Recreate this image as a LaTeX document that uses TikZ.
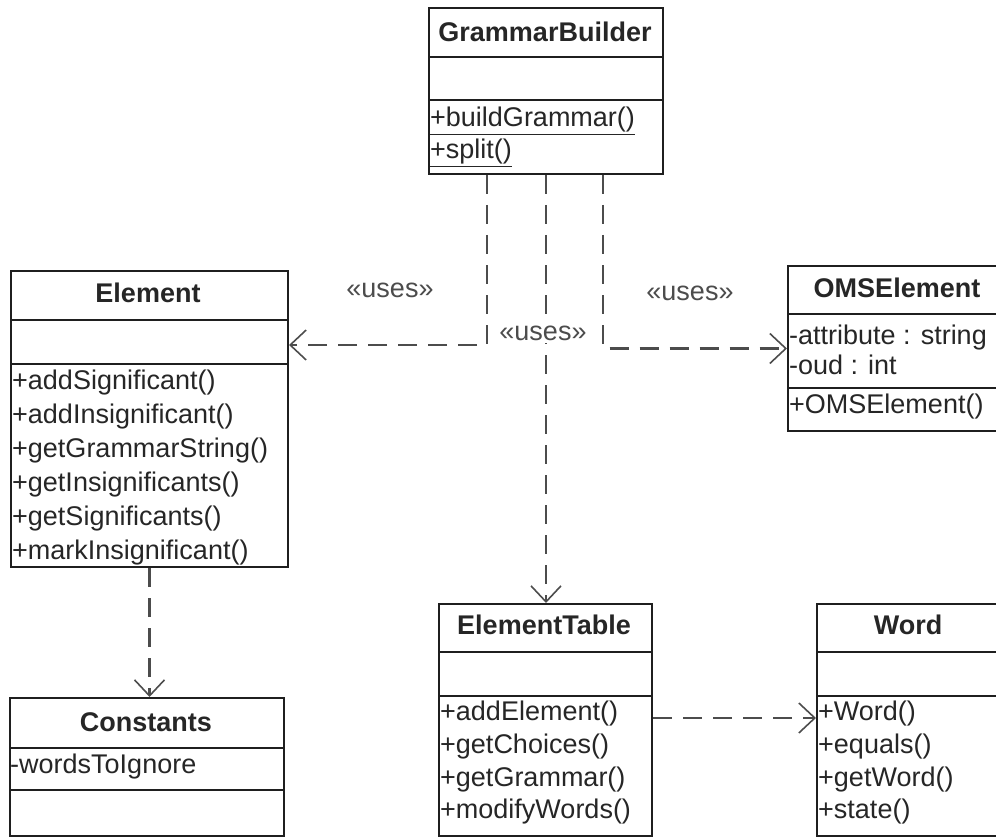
\documentclass[tikz,border=0pt]{standalone}
\usepackage{fontspec}
\setmainfont{Liberation Sans}
\usetikzlibrary{arrows.meta}
\tikzset{
  box/.style={draw=black!88, line width=2pt, anchor=north west, inner sep=0pt, fill=white},
  sep/.style={draw=black!88, line width=2pt},
  ttl/.style={font=\fontsize{27}{34}\selectfont\bfseries, inner sep=0pt, text=black!85},
  mem/.style={font=\fontsize{27}{34}\selectfont, inner sep=0pt, anchor=west, text=black!85,
              text height=20pt, text depth=6pt},
  dep/.style={draw=black!70, line width=2.8pt, dash pattern=on 19pt off 11pt,
              -{Straight Barb[length=16pt,width=30pt,line width=1.6pt]}},
  lbl/.style={font=\fontsize{27}{34}\selectfont, text=black!70, inner sep=3pt, fill=white}
}
\begin{document}
\begin{tikzpicture}[x=1pt,y=1pt]
\useasboundingbox (0,0) rectangle (996,-837);
\clip (0,0) rectangle (996,-837);

% ---- GrammarBuilder ----
\node[box, minimum width=234pt, minimum height=166pt] (gb) at (428,-7) {};
\draw[sep] (428,-57) -- (662,-57);
\draw[sep] (428,-100) -- (662,-100);
\node[ttl] (gbT) at (545,-32) {GrammarBuilder};
\node[mem] (gbM1) at (430,-120) {\underline{+buildGrammar()}};
\node[mem] (gbM2) at (430,-152) {\underline{+split()}};

% ---- Element ----
\node[box, minimum width=277pt, minimum height=296pt] (el) at (10,-270) {};
\draw[sep] (10,-320) -- (287,-320);
\draw[sep] (10,-364) -- (287,-364);
\node[ttl] (elT) at (148,-293) {Element};
\node[mem] (elM1) at (12,-382) {+addSignificant()};
\node[mem] (elM2) at (12,-416) {+addInsignificant()};
\node[mem] (elM3) at (12,-450) {+getGrammarString()};
\node[mem] (elM4) at (12,-484) {+getInsignificants()};
\node[mem] (elM5) at (12,-518) {+getSignificants()};
\node[mem] (elM6) at (12,-552) {+markInsignificant()};

% ---- OMSElement ----
\node[box, minimum width=225pt, minimum height=165pt] (oms) at (787,-265) {};
\draw[sep] (787,-314) -- (1012,-314);
\draw[sep] (787,-388) -- (1012,-388);
\node[ttl] (omsT) at (897,-288) {OMSElement};
\node[mem] (omsA1) at (789,-337) {-attribute : string};
\node[mem] (omsA2) at (789,-367) {-oud : int};
\node[mem] (omsM1) at (789,-406) {+OMSElement()};

% ---- Constants ----
\node[box, minimum width=274pt, minimum height=138pt] (co) at (9,-697) {};
\draw[sep] (9,-748) -- (283,-748);
\draw[sep] (9,-790) -- (283,-790);
\node[ttl] (coT) at (146,-722) {Constants};
\node[mem] (coA1) at (10,-766) {-wordsToIgnore};

% ---- ElementTable ----
\node[box, minimum width=213pt, minimum height=232pt] (et) at (438,-603) {};
\draw[sep] (438,-652) -- (651,-652);
\draw[sep] (438,-696) -- (651,-696);
\node[ttl] (etT) at (544,-625) {ElementTable};
\node[mem] (etM1) at (440,-713) {+addElement()};
\node[mem] (etM2) at (440,-746) {+getChoices()};
\node[mem] (etM3) at (440,-779) {+getGrammar()};
\node[mem] (etM4) at (440,-811) {+modifyWords()};

% ---- Word ----
\node[box, minimum width=214pt, minimum height=232pt] (wd) at (816,-603) {};
\draw[sep] (816,-652) -- (1030,-652);
\draw[sep] (816,-696) -- (1030,-696);
\node[ttl] (wdT) at (908,-625) {Word};
\node[mem] (wdM1) at (818,-713) {+Word()};
\node[mem] (wdM2) at (818,-746) {+equals()};
\node[mem] (wdM3) at (818,-779) {+getWord()};
\node[mem] (wdM4) at (818,-811) {+state()};

% ---- dependencies ----
\draw[dep] ([xshift=59pt]gb.south west) |- ([yshift=74pt]el.east);
\draw[dep] ([xshift=175pt]gb.south west) |- (oms.west);
\draw[dep] (gb.south) -- (gb.south |- et.north);
\draw[dep] ([yshift=2pt]et.east) -- ([yshift=2pt]et.east -| wd.west);
\draw[dep] (el.south) -- (el.south |- co.north);

% ---- stereotypes ----
\node[lbl] (u1) at (390,-290) {«uses»};
\node[lbl] (u2) at (543,-333) {«uses»};
\node[lbl] (u3) at (690,-293) {«uses»};
\end{tikzpicture}
\end{document}
